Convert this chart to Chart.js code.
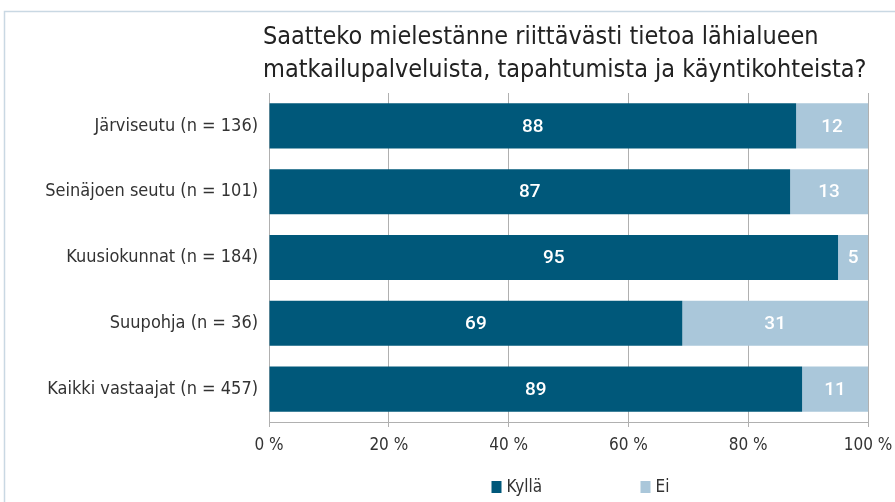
<!DOCTYPE html>
<html>
<head>
<meta charset="utf-8">
<script src="https://cdn.jsdelivr.net/npm/chart.js@4/dist/chart.umd.min.js"></script>
<style>
  html, body { margin: 0; padding: 0; background: #fff; }
  #wrap { width: 895px; height: 502px; position: relative; }
</style>
</head>
<body>
<div id="wrap"><canvas id="myChart" width="895" height="502"></canvas></div>
<script>
// data
const categories = ['Järviseutu (n = 136)', 'Seinäjoen seutu (n = 101)', 'Kuusiokunnat (n = 184)', 'Suupohja (n = 36)', 'Kaikki vastaajat (n = 457)'];
const kyllaValues = [88, 87, 95, 69, 89];
const eiValues = [12, 13, 5, 31, 11];
const seriesNames = ['Kyllä', 'Ei'];
const tickStep = 20;
const titleLines = ['Saatteko mielestänne riittävästi tietoa lähialueen', 'matkailupalveluista, tapahtumista ja käyntikohteista?'];

const darkBlue = 'rgb(0, 88, 122)';
const lightBlue = 'rgb(170, 199, 218)';
const fontFam = '"Liberation Sans Narrow", "DejaVu Sans Condensed", Roboto, sans-serif';

// kehys vasemmalla ja ylhäällä
const framePlugin = {
    id: 'frame',
    beforeDraw(chart) {
        const ctx = chart.ctx;
        ctx.save();
        ctx.strokeStyle = '#c9d8e3';
        ctx.lineWidth = 1.5;
        ctx.beginPath();
        ctx.moveTo(4.5, chart.height);
        ctx.lineTo(4.5, 11.5);
        ctx.lineTo(chart.width, 11.5);
        ctx.stroke();
        ctx.restore();
    }
};

// otsikko kahdelle riville, vasen reuna hieman kaavioalueen vasemmalla puolella
const titlePlugin = {
    id: 'ownTitle',
    afterDraw(chart) {
        const ctx = chart.ctx;
        ctx.save();
        ctx.fillStyle = '#222';
        ctx.font = '25px ' + fontFam;
        ctx.textAlign = 'left';
        ctx.textBaseline = 'middle';
        titleLines.forEach((line, i) => {
            ctx.fillText(line, chart.chartArea.left - 6, 37 + i * 33);
        });
        ctx.restore();
    }
};

// arvot palkkien sisälle
const valuePlugin = {
    id: 'values',
    afterDatasetsDraw(chart) {
        const ctx = chart.ctx;
        ctx.save();
        ctx.fillStyle = '#fff';
        ctx.font = '500 19px Roboto, "Noto Sans", sans-serif';
        ctx.textAlign = 'center';
        ctx.textBaseline = 'middle';
        chart.data.datasets.forEach((ds, i) => {
            chart.getDatasetMeta(i).data.forEach((bar, j) => {
                const left = Math.min(bar.x, bar.base);
                const right = Math.max(bar.x, bar.base);
                ctx.fillText(ds.data[j], (left + right) / 2, bar.y + 1);
            });
        });
        ctx.restore();
    }
};

// oma selite alareunaan
const legendPlugin = {
    id: 'ownLegend',
    afterDraw(chart) {
        const ctx = chart.ctx;
        const mid = (chart.chartArea.left + chart.chartArea.right) / 2;
        const xs = [mid - 77, mid + 72];
        const y = 487;
        ctx.save();
        ctx.font = '17px ' + fontFam;
        ctx.textBaseline = 'middle';
        ctx.textAlign = 'left';
        chart.data.datasets.forEach((ds, i) => {
            ctx.fillStyle = ds.backgroundColor;
            ctx.fillRect(xs[i], y - 6, 10, 12);
            ctx.fillStyle = '#333';
            ctx.fillText(ds.label, xs[i] + 15, y + 1);
        });
        ctx.restore();
    }
};

const data = {
    labels: categories,
    datasets: [
        { label: seriesNames[0], data: kyllaValues, backgroundColor: darkBlue },
        { label: seriesNames[1], data: eiValues, backgroundColor: lightBlue }
    ]
};

const config = {
    type: 'bar',
    data: data,
    options: {
        indexAxis: 'y',
        responsive: false,
        animation: false,
        barPercentage: 1,
        categoryPercentage: 0.685,
        layout: { padding: { left: 0, right: 27, top: 93, bottom: 34 } },
        scales: {
            x: {
                stacked: true,
                min: 0,
                max: 100,
                ticks: {
                    stepSize: tickStep,
                    color: '#333',
                    padding: 8,
                    font: { family: fontFam, size: 17 },
                    callback: (v) => v + ' %'
                },
                grid: { color: '#b0b0b0', lineWidth: 1, tickLength: 5 },
                border: { color: '#b0b0b0' },
                afterFit: (s) => { s.height = 46; s.paddingLeft = 0; s.paddingRight = 0; }
            },
            y: {
                stacked: true,
                ticks: {
                    color: '#333',
                    padding: 3,
                    font: { family: fontFam, size: 18 }
                },
                grid: { display: false },
                border: { color: '#b0b0b0' },
                afterFit: (s) => { s.width = 269; }
            }
        },
        plugins: {
            legend: { display: false },
            tooltip: { enabled: false },
            title: { display: false }
        }
    },
    plugins: [framePlugin, titlePlugin, valuePlugin, legendPlugin]
};

new Chart(document.getElementById('myChart'), config);
</script>
</body>
</html>
